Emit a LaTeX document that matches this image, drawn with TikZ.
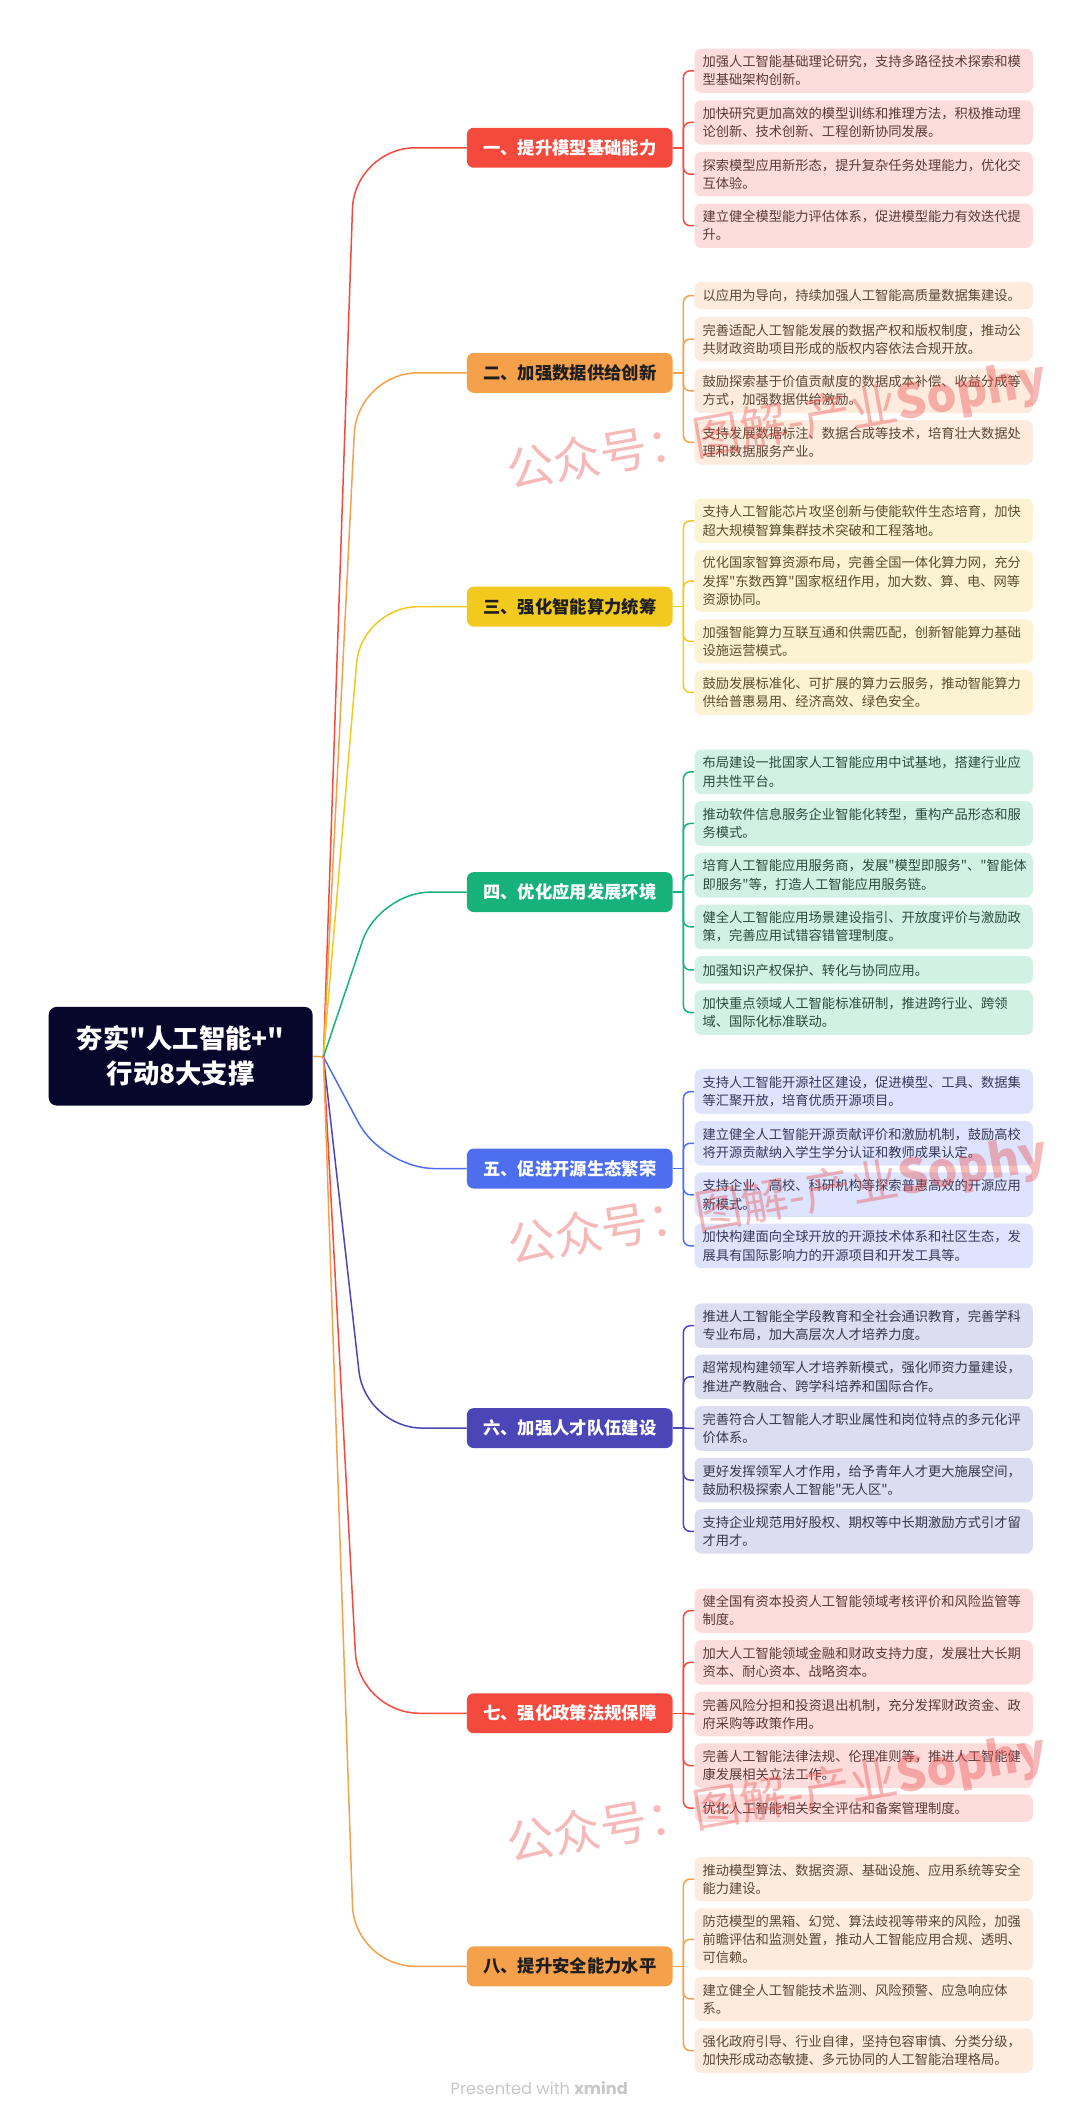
\documentclass[tikz,border=0pt]{standalone}
\usepackage{fontspec}
\setmainfont{Noto Sans CJK SC}[Ligatures=TeXOff]
\newfontfamily\footfont{Poppins}
\usetikzlibrary{calc}
\definecolor{cR}{HTML}{F44A3E}\definecolor{cRL}{HTML}{FDDCDC}\definecolor{cRT}{HTML}{5C3A3A}
\definecolor{cO}{HTML}{F5A04B}\definecolor{cOL}{HTML}{FDEBDD}\definecolor{cOT}{HTML}{5C4634}
\definecolor{cY}{HTML}{F2C91E}\definecolor{cYL}{HTML}{FCF3D3}\definecolor{cYT}{HTML}{5A4E2C}
\definecolor{cG}{HTML}{17B27B}\definecolor{cGL}{HTML}{D0F1E4}\definecolor{cGT}{HTML}{2C4A3E}
\definecolor{cB}{HTML}{4E6EF0}\definecolor{cBL}{HTML}{DEE4FD}\definecolor{cBT}{HTML}{343A58}
\definecolor{cI}{HTML}{4B46B7}\definecolor{cIL}{HTML}{DDDDF1}\definecolor{cIT}{HTML}{36364E}
\definecolor{cMain}{HTML}{07072B}
\definecolor{cWM}{HTML}{E84848}
\definecolor{cFoot}{HTML}{C8C8C8}
\definecolor{cDark}{HTML}{1E1E1E}
\begin{document}
\begin{tikzpicture}[x=1pt,y=-1pt,
  leafbox/.style 2 args={fill=#1, text=#2, rounded corners=5pt, text width=238pt,
    inner xsep=6pt, inner ysep=0pt, align=left, anchor=north west,
    font=\fontsize{9.8pt}{13.5pt}\selectfont},
  branchbox/.style 2 args={fill=#1, text=#2, rounded corners=5pt, minimum width=152pt,
    minimum height=29.5pt, inner sep=0pt, font=\fontsize{12.8pt}{15pt}\selectfont\bfseries},
  conn/.style={draw=#1, line width=1.1pt},
  wm/.style={text=cWM, opacity=0.38, inner sep=0pt, anchor=west, rotate=10,
    font=\fontsize{35pt}{38pt}\selectfont}
]
\fill[white] (0,0) rectangle (798,1567.3);
\useasboundingbox (0,0) rectangle (798,1567.3);

% main node
\node[fill=cMain, text=white, rounded corners=6pt, minimum width=195pt, minimum height=73pt,
  inner sep=0pt, align=center, font=\fontsize{19.5pt}{26pt}\selectfont\bfseries]
  (main) at (133.5,780.5) {夯实"人工智能+"\\行动8大支撑};
\coordinate (O) at (239,781);

% branch nodes
\node[branchbox={cR}{white}] (br1) at (421,109.2) {一、提升模型基础能力};
\node[branchbox={cO}{cDark}] (br2) at (421,275.5) {二、加强数据供给创新};
\node[branchbox={cY}{cDark}] (br3) at (421,448.3) {三、强化智能算力统筹};
\node[branchbox={cG}{white}] (br4) at (421,659.2) {四、优化应用发展环境};
\node[branchbox={cB}{white}] (br5) at (421,863.5) {五、促进开源生态繁荣};
\node[branchbox={cI}{white}] (br6) at (421,1055.3) {六、加强人才队伍建设};
\node[branchbox={cR}{white}] (br7) at (421,1266) {七、强化政策法规保障};
\node[branchbox={cO}{cDark}] (br8) at (421,1453) {八、提升安全能力水平};

% main to branches
\draw[conn=cO] (main.east) -- (O);
\draw[conn=cR, rounded corners=45pt] (O) -- (262,109.2) -- (br1.west);
\draw[conn=cO, rounded corners=45pt] (O) -- (264,275.5) -- (br2.west);
\draw[conn=cY, rounded corners=42pt] (O) -- (267,448.3) -- (br3.west);
\draw[conn=cG, rounded corners=38pt] (O) -- (280,659.2) -- (br4.west);
\draw[conn=cB, rounded corners=38pt] (O) -- (283,863.5) -- (br5.west);
\draw[conn=cI, rounded corners=42pt] (O) -- (270,1055.3) -- (br6.west);
\draw[conn=cR, rounded corners=45pt] (O) -- (265,1266) -- (br7.west);
\draw[conn=cO, rounded corners=45pt] (O) -- (262,1453) -- (br8.west);

% group 1
\node[leafbox={cRL}{cRT}, minimum height=32.8pt] (l1a) at (513,35.7) {加强人工智能基础理论研究，支持多路径技术探索和模\\型基础架构创新。};
\node[leafbox={cRL}{cRT}, minimum height=32.8pt] (l1b) at (513,73.9) {加快研究更加高效的模型训练和推理方法，积极推动理\\论创新、技术创新、工程创新协同发展。};
\node[leafbox={cRL}{cRT}, minimum height=32.8pt] (l1c) at (513,112.1) {探索模型应用新形态，提升复杂任务处理能力，优化交\\互体验。};
\node[leafbox={cRL}{cRT}, minimum height=32.8pt] (l1d) at (513,150.2) {建立健全模型能力评估体系，促进模型能力有效迭代提\\升。};
\coordinate (p1) at (505,109.2);
\draw[conn=cR] (br1.east) -- (p1);
\foreach \n in {l1a,l1b,l1c,l1d} \draw[conn=cR, rounded corners=5pt] (p1) |- (\n.west);

% group 2
\node[leafbox={cOL}{cOT}, minimum height=20.3pt] (l2a) at (513,208.1) {以应用为导向，持续加强人工智能高质量数据集建设。};
\node[leafbox={cOL}{cOT}, minimum height=32.8pt] (l2b) at (513,234) {完善适配人工智能发展的数据产权和版权制度，推动公\\共财政资助项目形成的版权内容依法合规开放。};
\node[leafbox={cOL}{cOT}, minimum height=32.8pt] (l2c) at (513,272.2) {鼓励探索基于价值贡献度的数据成本补偿、收益分成等\\方式，加强数据供给激励。};
\node[leafbox={cOL}{cOT}, minimum height=32.8pt] (l2d) at (513,310.3) {支持发展数据标注、数据合成等技术，培育壮大数据处\\理和数据服务产业。};
\coordinate (p2) at (505,275.5);
\draw[conn=cO] (br2.east) -- (p2);
\foreach \n in {l2a,l2b,l2c,l2d} \draw[conn=cO, rounded corners=5pt] (p2) |- (\n.west);

% group 3
\node[leafbox={cYL}{cYT}, minimum height=33pt] (l3a) at (513,368.2) {支持人工智能芯片攻坚创新与使能软件生态培育，加快\\超大规模智算集群技术突破和工程落地。};
\node[leafbox={cYL}{cYT}, minimum height=45.6pt] (l3b) at (513,406.4) {优化国家智算资源布局，完善全国一体化算力网，充分\\发挥"东数西算"国家枢纽作用，加大数、算、电、网等\\资源协同。};
\node[leafbox={cYL}{cYT}, minimum height=32.8pt] (l3c) at (513,457.4) {加强智能算力互联互通和供需匹配，创新智能算力基础\\设施运营模式。};
\node[leafbox={cYL}{cYT}, minimum height=33pt] (l3d) at (513,495) {鼓励发展标准化、可扩展的算力云服务，推动智能算力\\供给普惠易用、经济高效、绿色安全。};
\coordinate (p3) at (505,448.3);
\draw[conn=cY] (br3.east) -- (p3);
\foreach \n in {l3a,l3b,l3c,l3d} \draw[conn=cY, rounded corners=5pt] (p3) |- (\n.west);

% group 4
\node[leafbox={cGL}{cGT}, minimum height=33pt] (l4a) at (513,553.7) {布局建设一批国家人工智能应用中试基地，搭建行业应\\用共性平台。};
\node[leafbox={cGL}{cGT}, minimum height=33pt] (l4b) at (513,591.8) {推动软件信息服务企业智能化转型，重构产品形态和服\\务模式。};
\node[leafbox={cGL}{cGT}, minimum height=33pt] (l4c) at (513,630) {培育人工智能应用服务商，发展"模型即服务"、"智能体\\即服务"等，打造人工智能应用服务链。};
\node[leafbox={cGL}{cGT}, minimum height=33pt] (l4d) at (513,668.2) {健全人工智能应用场景建设指引、开放度评价与激励政\\策，完善应用试错容错管理制度。};
\node[leafbox={cGL}{cGT}, minimum height=20.3pt] (l4e) at (513,706.4) {加强知识产权保护、转化与协同应用。};
\node[leafbox={cGL}{cGT}, minimum height=33pt] (l4f) at (513,731.5) {加快重点领域人工智能标准研制，推进跨行业、跨领\\域、国际化标准联动。};
\coordinate (p4) at (505,659.2);
\draw[conn=cG] (br4.east) -- (p4);
\foreach \n in {l4a,l4b,l4c,l4d,l4e,l4f} \draw[conn=cG, rounded corners=5pt] (p4) |- (\n.west);

% group 5
\node[leafbox={cBL}{cBT}, minimum height=33pt] (l5a) at (513,789.9) {支持人工智能开源社区建设，促进模型、工具、数据集\\等汇聚开放，培育优质开源项目。};
\node[leafbox={cBL}{cBT}, minimum height=33pt] (l5b) at (513,828.1) {建立健全人工智能开源贡献评价和激励机制，鼓励高校\\将开源贡献纳入学生学分认证和教师成果认定。};
\node[leafbox={cBL}{cBT}, minimum height=33pt] (l5c) at (513,866.2) {支持企业、高校、科研机构等探索普惠高效的开源应用\\新模式。};
\node[leafbox={cBL}{cBT}, minimum height=33pt] (l5d) at (513,903.9) {加快构建面向全球开放的开源技术体系和社区生态，发\\展具有国际影响力的开源项目和开发工具等。};
\coordinate (p5) at (505,863.5);
\draw[conn=cB] (br5.east) -- (p5);
\foreach \n in {l5a,l5b,l5c,l5d} \draw[conn=cB, rounded corners=5pt] (p5) |- (\n.west);

% group 6
\node[leafbox={cIL}{cIT}, minimum height=32.8pt] (l6a) at (513,963) {推进人工智能全学段教育和全社会通识教育，完善学科\\专业布局，加大高层次人才培养力度。};
\node[leafbox={cIL}{cIT}, minimum height=33pt] (l6b) at (513,1000.7) {超常规构建领军人才培养新模式，强化师资力量建设，\\推进产教融合、跨学科培养和国际合作。};
\node[leafbox={cIL}{cIT}, minimum height=33pt] (l6c) at (513,1038.9) {完善符合人工智能人才职业属性和岗位特点的多元化评\\价体系。};
\node[leafbox={cIL}{cIT}, minimum height=33pt] (l6d) at (513,1077) {更好发挥领军人才作用，给予青年人才更大施展空间，\\鼓励积极探索人工智能"无人区"。};
\node[leafbox={cIL}{cIT}, minimum height=32.8pt] (l6e) at (513,1115) {支持企业规范用好股权、期权等中长期激励方式引才留\\才用才。};
\coordinate (p6) at (505,1055.3);
\draw[conn=cI] (br6.east) -- (p6);
\foreach \n in {l6a,l6b,l6d,l6e} \draw[conn=cI, rounded corners=5pt] (p6) |- (\n.west);
\draw[conn=cI] (p6) -- (l6c.west);

% group 7
\node[leafbox={cRL}{cRT}, minimum height=32.8pt] (l7a) at (513,1173.6) {健全国有资本投资人工智能领域考核评价和风险监管等\\制度。};
\node[leafbox={cRL}{cRT}, minimum height=32.8pt] (l7b) at (513,1211.8) {加大人工智能领域金融和财政支持力度，发展壮大长期\\资本、耐心资本、战略资本。};
\node[leafbox={cRL}{cRT}, minimum height=32.8pt] (l7c) at (513,1250) {完善风险分担和投资退出机制，充分发挥财政资金、政\\府采购等政策作用。};
\node[leafbox={cRL}{cRT}, minimum height=32.8pt] (l7d) at (513,1288.1) {完善人工智能法律法规、伦理准则等，推进人工智能健\\康发展相关立法工作。};
\node[leafbox={cRL}{cRT}, minimum height=20.3pt] (l7e) at (513,1325.8) {优化人工智能相关安全评估和备案管理制度。};
\coordinate (p7) at (505,1266);
\draw[conn=cR] (br7.east) -- (p7);
\foreach \n in {l7a,l7b,l7d,l7e} \draw[conn=cR, rounded corners=5pt] (p7) |- (\n.west);
\draw[conn=cR] (p7) -- (l7c.west);

% group 8
\node[leafbox={cOL}{cOT}, minimum height=32.8pt] (l8a) at (513,1371.9) {推动模型算法、数据资源、基础设施、应用系统等安全\\能力建设。};
\node[leafbox={cOL}{cOT}, minimum height=45.6pt] (l8b) at (513,1410) {防范模型的黑箱、幻觉、算法歧视等带来的风险，加强\\前瞻评估和监测处置，推动人工智能应用合规、透明、\\可信赖。};
\node[leafbox={cOL}{cOT}, minimum height=32.8pt] (l8c) at (513,1460.5) {建立健全人工智能技术监测、风险预警、应急响应体\\系。};
\node[leafbox={cOL}{cOT}, minimum height=32.8pt] (l8d) at (513,1498.7) {强化政府引导、行业自律，坚持包容审慎、分类分级，\\加快形成动态敏捷、多元协同的人工智能治理格局。};
\coordinate (p8) at (505,1453);
\draw[conn=cO] (br8.east) -- (p8);
\foreach \n in {l8a,l8b,l8c,l8d} \draw[conn=cO, rounded corners=5pt] (p8) |- (\n.west);

% footer
\node[text=cFoot, inner sep=0pt, font=\footfont\fontsize{12pt}{14pt}\selectfont] (foot) at (398.5,1543) {Presented with \textbf{xmind}};

% watermarks
\node[wm] (wm1) at (375,350.5) {公众号：图解-产业\textbf{Sophy}};
\node[wm] (wm2) at (376,923) {公众号：图解-产业\textbf{Sophy}};
\node[wm] (wm3) at (375,1365) {公众号：图解-产业\textbf{Sophy}};
\end{tikzpicture}
\end{document}
